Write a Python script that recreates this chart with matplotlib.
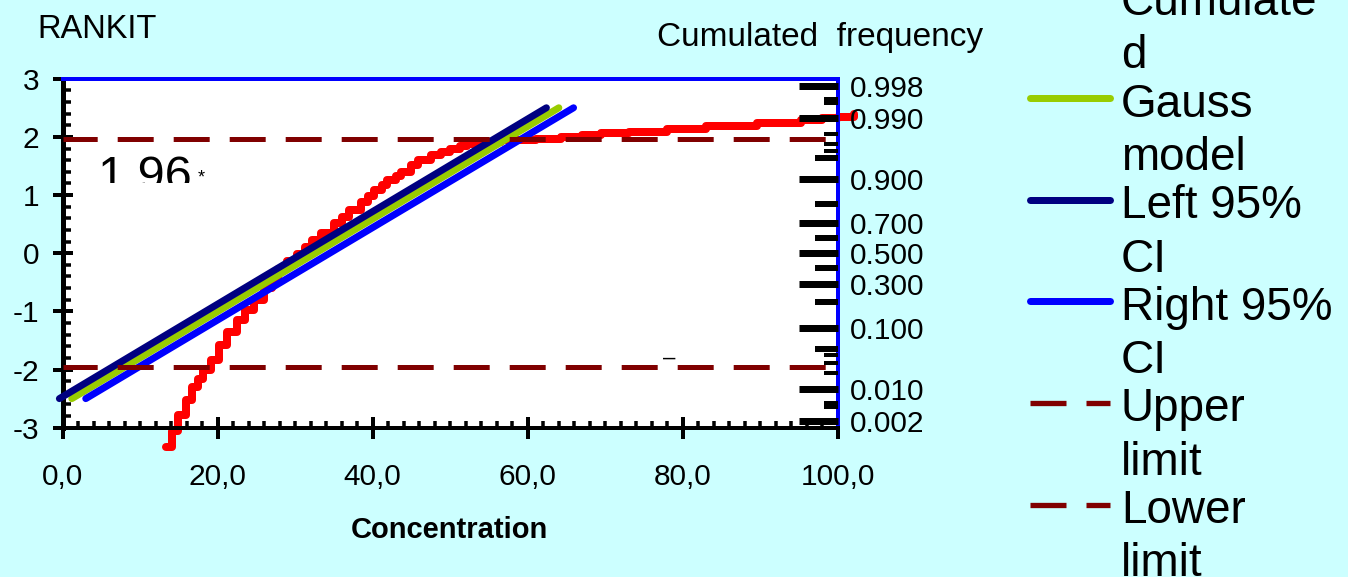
import matplotlib
matplotlib.use("Agg")
import matplotlib.pyplot as plt
from matplotlib.ticker import FixedLocator, MultipleLocator, FuncFormatter
from matplotlib.lines import Line2D
from matplotlib.patches import Rectangle
from statistics import NormalDist

plt.rcParams['font.family'] = ['Liberation Sans', 'DejaVu Sans']
plt.rcParams['axes.unicode_minus'] = False

# --- data ---
cum_conc = [13.4, 14.1, 14.9, 15.9, 16.7, 17.5, 18.1, 19.1, 20.2, 21.2,
            22.5, 23.5, 24.7, 26.0, 27.0, 27.8, 29.0, 30.3, 31.3, 32.2,
            33.3, 35.0, 36.0, 36.9, 38.5, 39.4, 40.2, 41.2, 41.9, 43.0,
            43.6, 44.9, 45.8, 47.5, 48.8, 50.0, 51.2, 52.2, 53.5, 54.8,
            56.5, 58.7, 61.0, 64.3, 67.0, 69.4, 73.0, 78.0, 83.0, 89.6,
            95.2, 98.0, 100.0, 102.0]
cum_rankit = [-3.33, -3.05, -2.78, -2.53, -2.30, -2.16, -2.00, -1.84, -1.58, -1.36,
              -1.14, -0.97, -0.81, -0.60, -0.42, -0.28, -0.14, -0.02, 0.10, 0.22,
              0.34, 0.52, 0.62, 0.74, 0.88, 0.98, 1.09, 1.18, 1.26, 1.33,
              1.40, 1.52, 1.60, 1.69, 1.74, 1.80, 1.84, 1.87, 1.90, 1.92,
              1.94, 1.95, 1.97, 2.00, 2.03, 2.06, 2.09, 2.14, 2.18, 2.24,
              2.29, 2.32, 2.35, 2.40]

gauss_x = [1.2, 64.0]
gauss_y = [-2.5, 2.5]
left_x = [-0.4, 62.4]
left_y = [-2.5, 2.5]
right_x = [3.0, 65.9]
right_y = [-2.5, 2.5]
limit_x = [0.0, 100.0]
upper_y = [1.96, 1.96]
lower_y = [-1.96, -1.96]

freq_major = [0.002, 0.010, 0.100, 0.300, 0.500, 0.700, 0.900, 0.990, 0.998]
freq_labels = ["0.002", "0.010", "0.100", "0.300", "0.500", "0.700", "0.900", "0.990", "0.998"]
freq_medium = [0.05, 0.2, 0.4, 0.6, 0.8, 0.95]
freq_short = [0.004, 0.005, 0.02, 0.03, 0.04, 0.96, 0.97, 0.98, 0.995, 0.996]

legend_labels = [("Cumulate", "d"), ("Gauss", "model"), ("Left 95%", "CI"),
                 ("Right 95%", "CI"), ("Upper", "limit"), ("Lower", "limit")]

# --- styles ---
PT = 0.72  # points per pixel at dpi 100
W, H = 1348, 577
BG = '#CCFFFF'
RED = '#FF0000'
GREEN = '#99CC00'
NAVY = '#000080'
BLUE = '#0000FF'
MAROON = '#800000'
LW = 7 * PT
DASH_LW = 5 * PT
DASH = (0.36, (7.2, 4.0))

probit = NormalDist().inv_cdf

fig = plt.figure(figsize=(W / 100, H / 100), dpi=100, facecolor=BG)
ax = fig.add_axes([62.5 / W, 1 - 427.7 / H, 775.5 / W, 349 / H])
ax.set_facecolor('white')

ax.plot(cum_conc, cum_rankit, color=RED, lw=8 * PT, drawstyle='steps-post',
        solid_joinstyle='round', solid_capstyle='round', clip_on=False, zorder=2)
ax.plot(gauss_x, gauss_y, color=GREEN, lw=LW, solid_capstyle='round', clip_on=False, zorder=3)
ax.plot(left_x, left_y, color=NAVY, lw=LW, solid_capstyle='round', clip_on=False, zorder=4)
ax.plot(right_x, right_y, color=BLUE, lw=LW, solid_capstyle='round', clip_on=False, zorder=5)
ax.plot(limit_x, upper_y, color=MAROON, lw=DASH_LW, linestyle=DASH, zorder=6)
ax.plot(limit_x, lower_y, color=MAROON, lw=DASH_LW, linestyle=DASH, zorder=6)

# the clipped "1,96*" note
ax.text(4.5, 1.086, "1,96", fontsize=35, va='baseline', ha='left', zorder=7)
ax.add_patch(Rectangle((3.0, 0.9), 16.0, 0.307, facecolor='white', edgecolor='none', zorder=8))
ax.text(17.85, 1.30, "*", fontsize=13, ha='center', va='center', zorder=9)
ax.text(78.2, -1.80, "\u2013", fontsize=16, ha='center', va='center', zorder=9)

ax.set_xlim(0, 100)
ax.set_ylim(-3, 3)
ax.xaxis.set_major_locator(MultipleLocator(20))
ax.xaxis.set_minor_locator(MultipleLocator(2))
ax.yaxis.set_major_locator(MultipleLocator(1))
ax.yaxis.set_minor_locator(MultipleLocator(0.2))
ax.xaxis.set_major_formatter(FuncFormatter(lambda v, p: f"{v:.1f}".replace('.', ',')))
ax.yaxis.set_major_formatter(FuncFormatter(lambda v, p: f"{v:.0f}"))

ax.tick_params(axis='y', which='major', direction='inout', length=20 * PT, width=4 * PT,
               labelsize=21.5, pad=9.5)
ax.tick_params(axis='y', which='minor', direction='in', length=8 * PT, width=3.5 * PT)
ax.tick_params(axis='x', which='major', direction='inout', length=22 * PT, width=4 * PT,
               labelsize=21.5, pad=17.5)
ax.tick_params(axis='x', which='minor', direction='in', length=7 * PT, width=3.5 * PT)
ax.tick_params(right=False, top=False, which='both')

ax.spines['left'].set_linewidth(5 * PT)
ax.spines['bottom'].set_linewidth(4 * PT)
ax.spines['top'].set_color(BLUE)
ax.spines['top'].set_linewidth(4 * PT)
ax.spines['right'].set_color(BLUE)
ax.spines['right'].set_linewidth(4 * PT)

# right axis: cumulated frequency on a probit scale
ax2 = ax.twinx()
ax2.set_ylim(-3, 3)
for s in ax2.spines.values():
    s.set_visible(False)
ax2.yaxis.set_major_locator(FixedLocator([probit(p) for p in freq_major]))
ax2.yaxis.set_minor_locator(FixedLocator([probit(p) for p in freq_medium]))
ax2.set_yticklabels(freq_labels)
ax2.tick_params(axis='y', which='major', direction='in', length=39 * PT, width=7 * PT,
                labelsize=21.5, pad=8.5)
ax2.tick_params(axis='y', which='minor', direction='in', length=23 * PT, width=6 * PT)
for p in freq_short:
    ax2.axhline(probit(p), xmin=1 - 14 / 775.5, xmax=1.0, color='black', lw=4 * PT,
                solid_capstyle='butt')

# texts around the plot
fig.text(37 / W, 1 - 38 / H, "RANKIT", fontsize=23.5, va='baseline', ha='left')
fig.text(657 / W, 1 - 45.7 / H, "Cumulated  frequency", fontsize=24, va='baseline', ha='left')
fig.text(449.5 / W, 1 - 537.5 / H, "Concentration", fontsize=21, fontweight='bold',
         va='baseline', ha='center')

# legend drawn by hand to match the wrapped labels
leg_styles = [dict(color=RED, lw=LW, solid_capstyle='round'),
              dict(color=GREEN, lw=LW, solid_capstyle='round'),
              dict(color=NAVY, lw=LW, solid_capstyle='round'),
              dict(color=BLUE, lw=LW, solid_capstyle='round'),
              dict(color=MAROON, lw=5.3 * PT, linestyle=(0, (7.2 * 5 / 5.3, 4.0 * 5 / 5.3))),
              dict(color=MAROON, lw=5.3 * PT, linestyle=(0, (7.2 * 5 / 5.3, 4.0 * 5 / 5.3)))]
for i, ((l1, l2), st) in enumerate(zip(legend_labels, leg_styles)):
    y = -3.5 + i * 101.6
    fig.add_artist(Line2D([1030 / W, 1110 / W], [1 - y / H, 1 - y / H],
                          transform=fig.transFigure, **st))
    fig.text(1121 / W, 1 - (y + 18.5) / H, l1, fontsize=33, va='baseline', ha='left')
    fig.text(1121 / W, 1 - (y + 72) / H, l2, fontsize=33, va='baseline', ha='left')

fig.savefig("out.png", dpi=100, facecolor=BG)
